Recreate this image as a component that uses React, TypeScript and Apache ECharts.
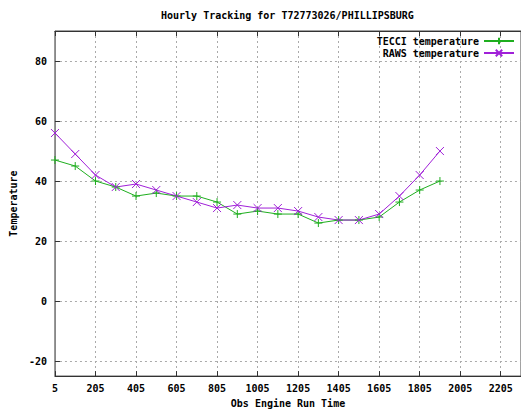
import React, { useEffect, useRef } from "react";
import * as echarts from "echarts";

const obsTimes = [5, 105, 205, 305, 405, 505, 605, 705, 805, 905, 1005, 1105, 1205, 1305, 1405, 1505, 1605, 1705, 1805, 1905];
const tecciTemp = [47, 45, 40, 38, 35, 36, 35, 35, 33, 29, 30, 29, 29, 26, 27, 27, 28, 33, 37, 40];
const rawsTemp = [56, 49, 42, 38, 39, 37, 35, 33, 31, 32, 31, 31, 30, 28, 27, 27, 29, 35, 42, 50];

const TITLE = "Hourly Tracking for T72773026/PHILLIPSBURG";
const FONT = "DejaVu Sans Mono";
const GREEN = "#1fae1f";
const PURPLE = "#a020d8";

const PLUS = "path://M0,5L10,5M5,0L5,10";
const CROSS = "path://M0,0L10,10M0,10L10,0";

export default function App() {
  const ref = useRef<HTMLDivElement>(null);
  useEffect(() => {
    if (!ref.current) return;
    const chart = echarts.init(ref.current, undefined, { renderer: "svg" });
    const textStyle = { fontFamily: FONT, fontSize: 10, fontWeight: "bold" as const, color: "#000" };
    chart.setOption({
      animation: false,
      backgroundColor: "#fff",
      title: {
        text: TITLE,
        left: 161,
        top: 10,
        padding: 0,
        textStyle: { ...textStyle, fontSize: 10 },
      },
      legend: {
        orient: "vertical",
        right: 6,
        top: 36,
        align: "right",
        itemWidth: 30,
        itemHeight: 8,
        itemGap: 2,
        padding: 0,
        textStyle: { ...textStyle, lineHeight: 10 },
        data: ["TECCI temperature", "RAWS temperature"],
      },
      grid: {
        left: 51,
        top: 31,
        width: 474,
        height: 350,
        show: true,
        borderColor: "#444",
        borderWidth: 1,
        backgroundColor: "transparent",
      },
      xAxis: [
        {
          type: "value",
          min: 5,
          max: 2305,
          interval: 200,
          name: "Obs Engine Run Time",
          nameLocation: "middle",
          nameGap: 15,
          nameTextStyle: { ...textStyle, verticalAlign: "top" },
          axisLine: { show: true, onZero: false, lineStyle: { color: "#333", width: 1 } },
          axisTick: { show: true, inside: true, length: 5, lineStyle: { color: "#333" } },
          axisLabel: { ...textStyle, margin: 7, showMaxLabel: false, formatter: (v: number) => String(v) },
          splitLine: { show: true, lineStyle: { color: "#aaa", type: [2, 3], width: 1 } },
        },
        {
          type: "value",
          position: "top",
          min: 5,
          max: 2305,
          interval: 200,
          axisLine: { show: true, onZero: false, lineStyle: { color: "#333", width: 1 } },
          axisTick: { show: true, inside: true, length: 5, lineStyle: { color: "#333" } },
          axisLabel: { show: false },
          splitLine: { show: false },
        },
      ],
      yAxis: {
        type: "value",
        min: -25,
        max: 90,
        splitNumber: 5,
        name: "Temperature",
        nameLocation: "middle",
        nameGap: 30,
        nameRotate: 90,
        nameTextStyle: { ...textStyle },
        axisLine: { show: true, onZero: false, lineStyle: { color: "#888", width: 1 } },
        axisTick: { show: true, inside: true, length: 5, lineStyle: { color: "#333" } },
        axisLabel: { ...textStyle, margin: 8, showMinLabel: false, showMaxLabel: false },
        splitLine: { show: true, lineStyle: { color: "#aaa", type: [2, 3], width: 1 } },
      },
      series: [
        {
          name: "TECCI temperature",
          type: "line",
          data: obsTimes.map((t, i) => [t, tecciTemp[i]]),
          symbol: PLUS,
          symbolSize: 8,
          showAllSymbol: true,
          itemStyle: { color: GREEN, borderColor: GREEN, borderWidth: 1 },
          lineStyle: { color: GREEN, width: 1 },
        },
        {
          name: "RAWS temperature",
          type: "line",
          data: obsTimes.map((t, i) => [t, rawsTemp[i]]),
          symbol: CROSS,
          symbolSize: 8,
          showAllSymbol: true,
          itemStyle: { color: PURPLE, borderColor: PURPLE, borderWidth: 1 },
          lineStyle: { color: PURPLE, width: 1 },
        },
      ],
    });
    return () => chart.dispose();
  }, []);
  return (
    <div
      ref={ref}
      style={{ position: "fixed", left: 0, top: 0, width: 521, height: 413, background: "#fff" }}
    />
  );
}
